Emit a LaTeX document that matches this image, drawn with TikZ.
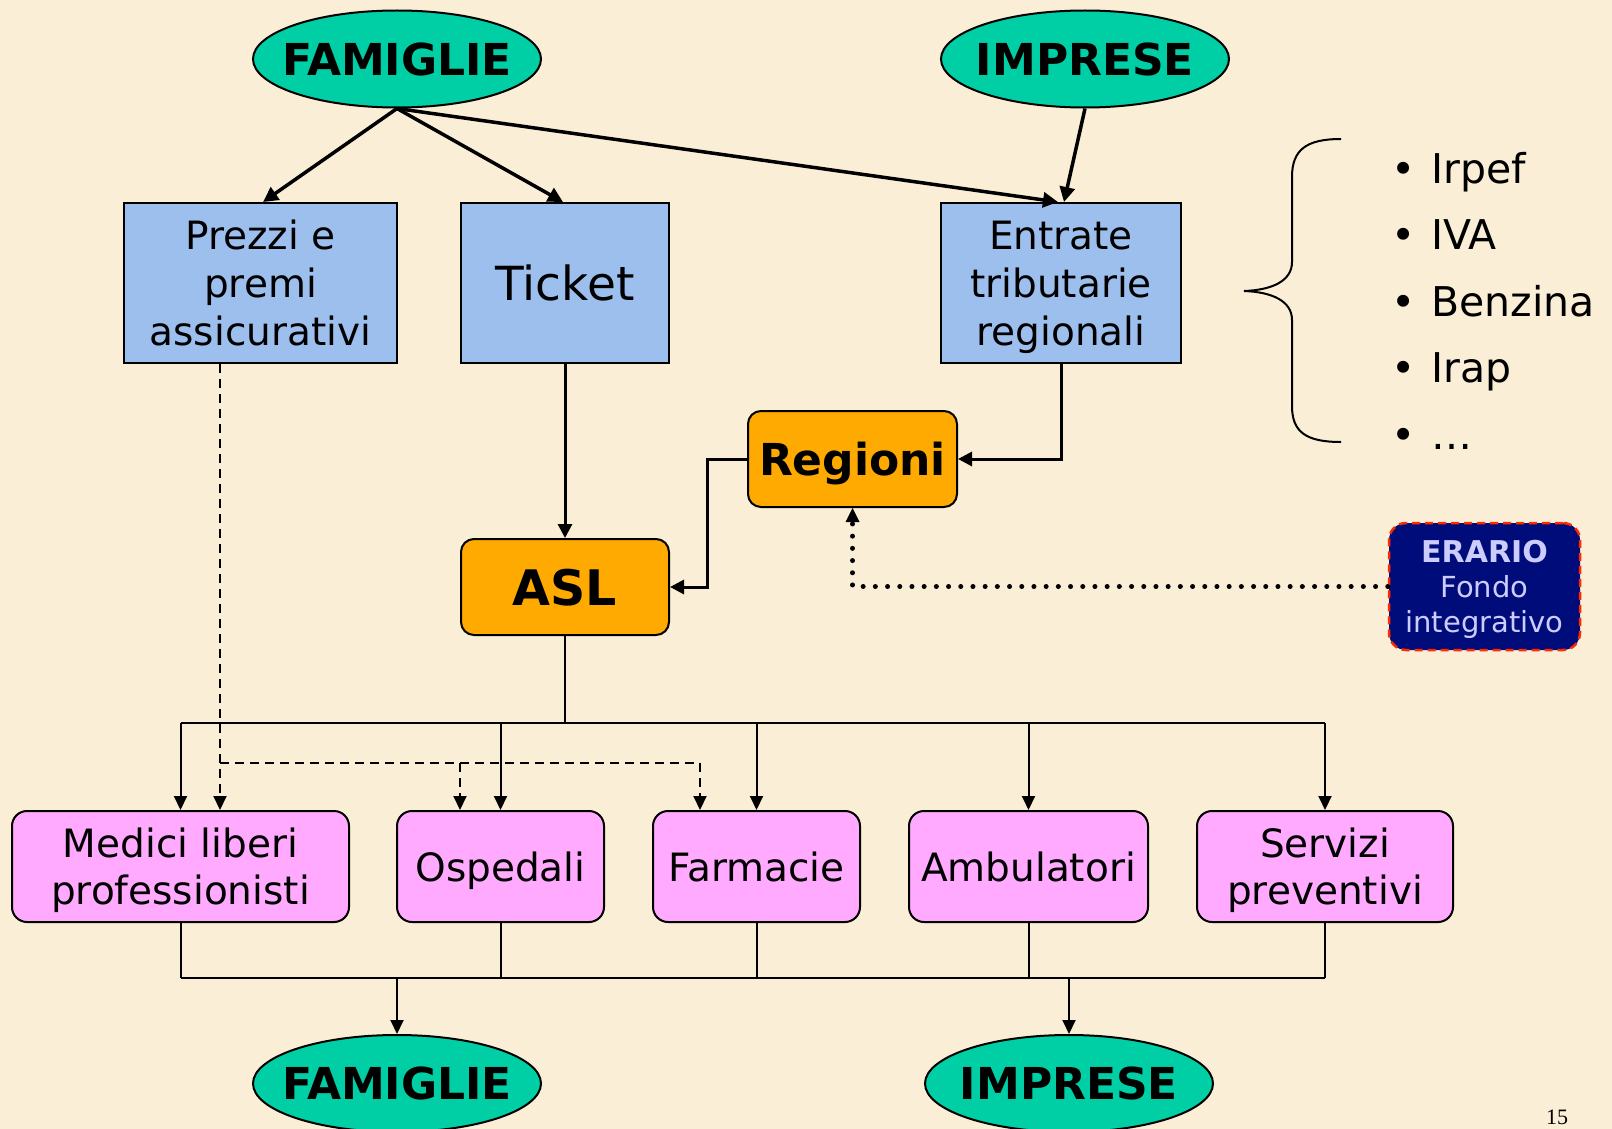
\documentclass[tikz,border=0pt]{standalone}
\usepackage{fontspec}
\setmainfont{DejaVu Sans}
\setsansfont{DejaVu Sans}
\usetikzlibrary{shapes.geometric,arrows.meta,calc}

\definecolor{paper}{HTML}{FAEFD6}
\definecolor{teal}{HTML}{00CFA6}
\definecolor{skyfill}{HTML}{9DBFED}
\definecolor{orangefill}{HTML}{FFAA00}
\definecolor{pinkfill}{HTML}{FFAAFF}
\definecolor{navyfill}{HTML}{000C7A}
\definecolor{lavtext}{HTML}{CCCCFF}
\definecolor{reddash}{HTML}{FF2A00}

\newcommand{\fs}[2]{\fontsize{#1}{#2}\selectfont}

\tikzset{
  actor/.style={ellipse, draw=black, line width=2pt, fill=teal,
    minimum width=288pt, minimum height=97pt, inner sep=0pt,
    label={[font=\fs{44}{52}\bfseries, inner sep=0pt]center:#1}},
  source/.style={rectangle, draw=black, line width=2pt, fill=skyfill,
    inner sep=0pt, align=center, text depth=0pt, font=\fs{39}{48}},
  body/.style={rectangle, rounded corners=13pt, draw=black, line width=2pt,
    fill=orangefill, inner sep=0pt, text depth=0pt, font=\fs{44}{52}\bfseries},
  provider/.style={rectangle, rounded corners=15pt, draw=black, line width=2pt,
    fill=pinkfill, inner sep=0pt, align=center, text depth=0pt, font=\fs{39}{47}},
  flowthick/.style={line width=3.5pt, -{Triangle[length=15pt,width=15pt]}},
  flow/.style={line width=3pt, -{Triangle[length=14pt,width=14pt]}},
  busline/.style={line width=2pt},
  busarrow/.style={line width=2pt, -{Triangle[length=14pt,width=13pt]}},
  dashflow/.style={line width=2pt, dash pattern=on 9pt off 6pt,
    -{Triangle[length=14pt,width=13pt]}},
  dashline/.style={line width=2pt, dash pattern=on 9pt off 6pt},
  dotflow/.style={line width=5pt, line cap=round, dash pattern=on 0pt off 12.2pt,
    shorten >=4pt},
  listtext/.style={anchor=base west, inner sep=0pt, font=\fs{41}{48}},
  bulletdot/.style={anchor=base, inner sep=0pt, font=\fs{41}{48}},
}

\begin{document}
\begin{tikzpicture}[x=1pt, y=-1pt]
  % page
  \fill[paper] (0,0) rectangle (1612,1129);
  \useasboundingbox (0,0) rectangle (1612,1129);

  % payers
  \node[actor=FAMIGLIE] (famT) at (397,59) {};
  \node[actor=IMPRESE] (impT) at (1085,59) {};

  % financing channels
  \node[source, minimum width=273pt, minimum height=160pt] (prezzi) at (260.5,283)
    {Prezzi e\\premi\\assicurativi};
  \node[source, minimum width=208pt, minimum height=160pt, font=\fs{47}{56}] (ticket) at (565,283)
    {Ticket};
  \node[source, minimum width=240pt, minimum height=160pt] (entr) at (1061,283)
    {Entrate\\tributarie\\regionali};

  % public bodies
  \node[body, minimum width=209pt, minimum height=96pt] (reg) at (852.5,459) {Regioni};
  \node[body, minimum width=208pt, minimum height=96pt, font=\fs{49}{56}\bfseries] (asl) at (565,587) {ASL};

  % state fund
  \node[rectangle, rounded corners=17pt, fill=navyfill, draw=reddash, line width=2.5pt,
        dash pattern=on 8pt off 5pt, minimum width=191pt, minimum height=127pt,
        inner sep=0pt, align=center, text depth=0pt, text=lavtext, font=\fs{29}{35}] (erario) at (1484.5,586.5)
    {\textbf{\fs{30}{35}ERARIO}\\Fondo\\integrativo};

  % providers
  \node[provider, minimum width=337pt, minimum height=111pt] (med) at (180.5,866.5)
    {Medici liberi\\professionisti};
  \node[provider, minimum width=207pt, minimum height=111pt] (osp) at (500.5,866.5) {Ospedali};
  \node[provider, minimum width=207pt, minimum height=111pt] (farm) at (756.5,866.5) {Farmacie};
  \node[provider, minimum width=239pt, minimum height=111pt] (amb) at (1028.5,866.5) {Ambulatori};
  \node[provider, minimum width=256pt, minimum height=111pt] (serv) at (1325,866.5)
    {Servizi\\preventivi};

  % final recipients
  \node[actor=FAMIGLIE] (famB) at (397,1083.5) {};
  \node[actor=IMPRESE] (impB) at (1069,1083.5) {};

  % flows from families and firms
  \draw[flowthick] (famT.south) -- ([xshift=2.5pt]prezzi.north);
  \draw[flowthick] (famT.south) -- ([xshift=-2pt]ticket.north);
  \draw[flowthick] (famT.south) -- ([xshift=-3pt]entr.north);
  \draw[flowthick] (impT.south) -- ([xshift=3pt]entr.north);

  % public financing chain
  \draw[flow] (ticket.south) -- (asl.north);
  \draw[flow] (entr.south) |- (reg.east);
  \draw[flow] (reg.west) -- ++(-40,0) |- (asl.east);
  \draw[dotflow] (erario.west) -| (reg.south);
  \fill (reg.south) -- ++(-7,14) -- ++(14,0) -- cycle;

  % distribution from ASL to providers
  \coordinate (bus) at (565,723);
  \draw[busline] (asl.south) -- (asl.south |- bus);
  \draw[busline] (med.north |- bus) -- (serv.north |- bus);
  \foreach \p in {med,osp,farm,amb,serv}
    \draw[busarrow] (\p.north |- bus) -- (\p.north);

  % private insurance payments (dashed)
  \coordinate (dx) at ([xshift=97pt]prezzi.south west);
  \coordinate (dlev) at (221,763);
  \coordinate (ospin) at ([xshift=64pt]osp.north west);
  \coordinate (farmin) at ([xshift=48pt]farm.north west);
  \draw[dashflow] (dx) -- (dx |- med.north);
  \draw[dashline] (dx |- dlev) -- (farmin |- dlev);
  \draw[dashflow] (ospin |- dlev) -- (ospin);
  \draw[dashflow] (farmin |- dlev) -- (farmin);

  % services returned to families and firms
  \coordinate (ret) at (565,978);
  \foreach \p in {med,osp,farm,amb,serv}
    \draw[busline] (\p.south) -- (\p.south |- ret);
  \draw[busline] (med.south |- ret) -- (serv.south |- ret);
  \draw[busarrow] (famB.north |- ret) -- (famB.north);
  \draw[busarrow] (impB.north |- ret) -- (impB.north);

  % regional taxes
  \draw[line width=2pt] (1341,139) .. controls (1306,139) and (1292,150) .. (1292,177)
    -- (1292,262) .. controls (1292,281) and (1272,290) .. (1244,291)
    .. controls (1272,292) and (1292,301) .. (1292,320)
    -- (1292,406) .. controls (1292,432) and (1306,442) .. (1341,442);
  \node[bulletdot] (b1) at (1404,183) {•};
  \node[listtext]  (t1) at (1431,183) {Irpef};
  \node[bulletdot] (b2) at (1404,249) {•};
  \node[listtext]  (t2) at (1431,249) {IVA};
  \node[bulletdot] (b3) at (1404,316) {•};
  \node[listtext]  (t3) at (1431,316) {Benzina};
  \node[bulletdot] (b4) at (1404,382) {•};
  \node[listtext]  (t4) at (1431,382) {Irap};
  \node[bulletdot] (b5) at (1404,449) {•};
  \node[listtext]  (t5) at (1431,449) {…};

  % page number
  \node[anchor=base west, inner sep=0pt, font=\fontspec{Liberation Serif}\fs{22}{26}] (pg) at (1546,1124) {15};
\end{tikzpicture}
\end{document}
